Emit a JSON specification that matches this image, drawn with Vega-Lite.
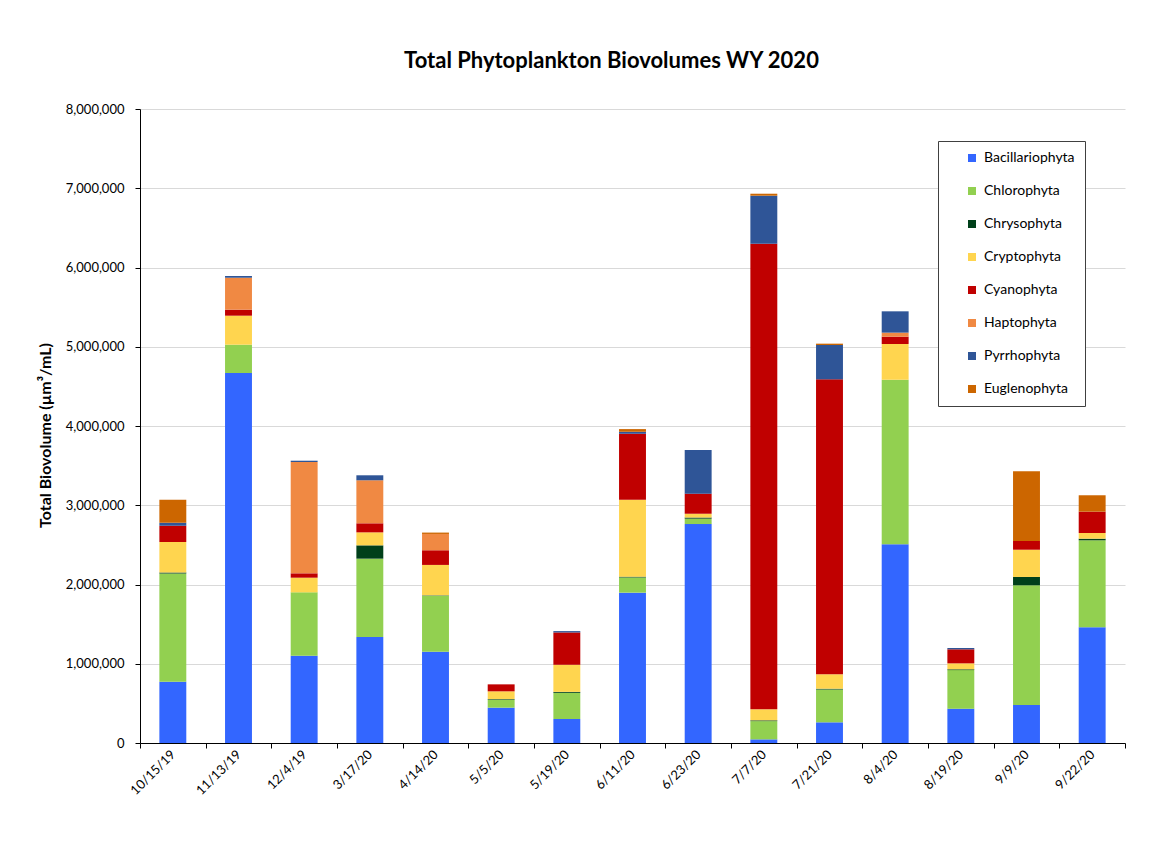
{
  "$schema": "https://vega.github.io/schema/vega-lite/v6.json",
  "width": 985,
  "height": 634,
  "autosize": {"type": "none"},
  "padding": {"left": 140, "top": 109, "right": 25, "bottom": 101},
  "background": "white",
  "title": {"text": "Total Phytoplankton Biovolumes WY 2020", "font": "Lato", "fontSize": 22, "fontWeight": "bold", "color": "#000000", "anchor": "middle", "offset": 30, "dx": -21},
  "data": {"values": [
    {"d": "10/15/19", "g": "Bacillariophyta", "v": 773000},
    {"d": "10/15/19", "g": "Chlorophyta", "v": 1367000},
    {"d": "10/15/19", "g": "Chrysophyta", "v": 10000},
    {"d": "10/15/19", "g": "Cryptophyta", "v": 386000},
    {"d": "10/15/19", "g": "Cyanophyta", "v": 206000},
    {"d": "10/15/19", "g": "Pyrrhophyta", "v": 38000},
    {"d": "10/15/19", "g": "Euglenophyta", "v": 290000},
    {"d": "11/13/19", "g": "Bacillariophyta", "v": 4669000},
    {"d": "11/13/19", "g": "Chlorophyta", "v": 357000},
    {"d": "11/13/19", "g": "Cryptophyta", "v": 366000},
    {"d": "11/13/19", "g": "Cyanophyta", "v": 76000},
    {"d": "11/13/19", "g": "Haptophyta", "v": 403000},
    {"d": "11/13/19", "g": "Pyrrhophyta", "v": 22000},
    {"d": "12/4/19", "g": "Bacillariophyta", "v": 1102000},
    {"d": "12/4/19", "g": "Chlorophyta", "v": 799000},
    {"d": "12/4/19", "g": "Cryptophyta", "v": 185000},
    {"d": "12/4/19", "g": "Cyanophyta", "v": 55000},
    {"d": "12/4/19", "g": "Haptophyta", "v": 1405000},
    {"d": "12/4/19", "g": "Pyrrhophyta", "v": 16000},
    {"d": "3/17/20", "g": "Bacillariophyta", "v": 1338000},
    {"d": "3/17/20", "g": "Chlorophyta", "v": 988000},
    {"d": "3/17/20", "g": "Chrysophyta", "v": 168000},
    {"d": "3/17/20", "g": "Cryptophyta", "v": 164000},
    {"d": "3/17/20", "g": "Cyanophyta", "v": 114000},
    {"d": "3/17/20", "g": "Haptophyta", "v": 543000},
    {"d": "3/17/20", "g": "Pyrrhophyta", "v": 63000},
    {"d": "4/14/20", "g": "Bacillariophyta", "v": 1152000},
    {"d": "4/14/20", "g": "Chlorophyta", "v": 707000},
    {"d": "4/14/20", "g": "Chrysophyta", "v": 5000},
    {"d": "4/14/20", "g": "Cryptophyta", "v": 383000},
    {"d": "4/14/20", "g": "Cyanophyta", "v": 185000},
    {"d": "4/14/20", "g": "Haptophyta", "v": 206000},
    {"d": "4/14/20", "g": "Euglenophyta", "v": 17000},
    {"d": "5/5/20", "g": "Bacillariophyta", "v": 446000},
    {"d": "5/5/20", "g": "Chlorophyta", "v": 100000},
    {"d": "5/5/20", "g": "Chrysophyta", "v": 8000},
    {"d": "5/5/20", "g": "Cryptophyta", "v": 98000},
    {"d": "5/5/20", "g": "Cyanophyta", "v": 88000},
    {"d": "5/19/20", "g": "Bacillariophyta", "v": 303000},
    {"d": "5/19/20", "g": "Chlorophyta", "v": 330000},
    {"d": "5/19/20", "g": "Chrysophyta", "v": 12000},
    {"d": "5/19/20", "g": "Cryptophyta", "v": 342000},
    {"d": "5/19/20", "g": "Cyanophyta", "v": 408000},
    {"d": "5/19/20", "g": "Pyrrhophyta", "v": 17000},
    {"d": "6/11/20", "g": "Bacillariophyta", "v": 1897000},
    {"d": "6/11/20", "g": "Chlorophyta", "v": 192000},
    {"d": "6/11/20", "g": "Chrysophyta", "v": 10000},
    {"d": "6/11/20", "g": "Cryptophyta", "v": 970000},
    {"d": "6/11/20", "g": "Cyanophyta", "v": 833000},
    {"d": "6/11/20", "g": "Pyrrhophyta", "v": 25000},
    {"d": "6/11/20", "g": "Euglenophyta", "v": 34000},
    {"d": "6/23/20", "g": "Bacillariophyta", "v": 2763000},
    {"d": "6/23/20", "g": "Chlorophyta", "v": 68000},
    {"d": "6/23/20", "g": "Chrysophyta", "v": 14000},
    {"d": "6/23/20", "g": "Cryptophyta", "v": 48000},
    {"d": "6/23/20", "g": "Cyanophyta", "v": 253000},
    {"d": "6/23/20", "g": "Pyrrhophyta", "v": 551000},
    {"d": "7/7/20", "g": "Bacillariophyta", "v": 46000},
    {"d": "7/7/20", "g": "Chlorophyta", "v": 230000},
    {"d": "7/7/20", "g": "Chrysophyta", "v": 10000},
    {"d": "7/7/20", "g": "Cryptophyta", "v": 139000},
    {"d": "7/7/20", "g": "Cyanophyta", "v": 5875000},
    {"d": "7/7/20", "g": "Pyrrhophyta", "v": 606000},
    {"d": "7/7/20", "g": "Euglenophyta", "v": 25000},
    {"d": "7/21/20", "g": "Bacillariophyta", "v": 261000},
    {"d": "7/21/20", "g": "Chlorophyta", "v": 414000},
    {"d": "7/21/20", "g": "Chrysophyta", "v": 10000},
    {"d": "7/21/20", "g": "Cryptophyta", "v": 182000},
    {"d": "7/21/20", "g": "Cyanophyta", "v": 3722000},
    {"d": "7/21/20", "g": "Pyrrhophyta", "v": 433000},
    {"d": "7/21/20", "g": "Euglenophyta", "v": 17000},
    {"d": "8/4/20", "g": "Bacillariophyta", "v": 2507000},
    {"d": "8/4/20", "g": "Chlorophyta", "v": 2078000},
    {"d": "8/4/20", "g": "Cryptophyta", "v": 450000},
    {"d": "8/4/20", "g": "Cyanophyta", "v": 92000},
    {"d": "8/4/20", "g": "Haptophyta", "v": 51000},
    {"d": "8/4/20", "g": "Pyrrhophyta", "v": 269000},
    {"d": "8/19/20", "g": "Bacillariophyta", "v": 433000},
    {"d": "8/19/20", "g": "Chlorophyta", "v": 487000},
    {"d": "8/19/20", "g": "Chrysophyta", "v": 10000},
    {"d": "8/19/20", "g": "Cryptophyta", "v": 75000},
    {"d": "8/19/20", "g": "Cyanophyta", "v": 177000},
    {"d": "8/19/20", "g": "Pyrrhophyta", "v": 17000},
    {"d": "9/9/20", "g": "Bacillariophyta", "v": 479000},
    {"d": "9/9/20", "g": "Chlorophyta", "v": 1511000},
    {"d": "9/9/20", "g": "Chrysophyta", "v": 105000},
    {"d": "9/9/20", "g": "Cryptophyta", "v": 344000},
    {"d": "9/9/20", "g": "Cyanophyta", "v": 110000},
    {"d": "9/9/20", "g": "Euglenophyta", "v": 879000},
    {"d": "9/22/20", "g": "Bacillariophyta", "v": 1460000},
    {"d": "9/22/20", "g": "Chlorophyta", "v": 1098000},
    {"d": "9/22/20", "g": "Chrysophyta", "v": 20000},
    {"d": "9/22/20", "g": "Cryptophyta", "v": 72000},
    {"d": "9/22/20", "g": "Cyanophyta", "v": 269000},
    {"d": "9/22/20", "g": "Euglenophyta", "v": 207000}
  ]},
  "transform": [
    {"calculate": "indexof(['Bacillariophyta', 'Chlorophyta', 'Chrysophyta', 'Cryptophyta', 'Cyanophyta', 'Haptophyta', 'Pyrrhophyta', 'Euglenophyta'], datum.g)", "as": "stackKey"}
  ],
  "mark": {"type": "bar", "width": {"band": 0.41}},
  "encoding": {
    "x": {
      "field": "d", "type": "nominal", "sort": null,
      "scale": {"paddingInner": 0, "paddingOuter": 0},
      "axis": {"title": null, "labelAngle": -45, "labelAlign": "right", "labelBaseline": "middle", "labelFont": "Lato", "labelFontSize": 13, "labelColor": "#000000", "domainColor": "#000000", "domainWidth": 1, "tickColor": "#000000", "tickSize": 5, "tickBand": "extent", "labelPadding": 4, "grid": false}
    },
    "y": {
      "field": "v", "type": "quantitative", "stack": "zero",
      "scale": {"domain": [0, 8000000]},
      "axis": {"title": "Total Biovolume (µm³/mL)", "titleFont": "Lato", "titleFontSize": 16, "titleFontWeight": "bold", "titleColor": "#000000", "titlePadding": 12, "titleY": 326, "values": [0, 1000000, 2000000, 3000000, 4000000, 5000000, 6000000, 7000000, 8000000], "format": ",d", "labelFont": "Lato", "labelFontSize": 13, "labelColor": "#000000", "domain": true, "domainColor": "#000000", "domainWidth": 1, "ticks": true, "tickSize": 5, "tickColor": "#000000", "labelPadding": 11, "gridColor": "#d9d9d9", "gridWidth": 1}
    },
    "order": {"field": "stackKey", "type": "quantitative", "sort": "ascending"},
    "color": {
      "field": "g", "type": "nominal",
      "scale": {
        "domain": ["Bacillariophyta", "Chlorophyta", "Chrysophyta", "Cryptophyta", "Cyanophyta", "Haptophyta", "Pyrrhophyta", "Euglenophyta"],
        "range": ["#3366ff", "#92d050", "#00401a", "#ffd54f", "#c00000", "#f08943", "#2f5597", "#cc6600"]
      },
      "legend": {"orient": "none", "legendX": 798, "legendY": 32, "title": null, "symbolType": "square", "symbolSize": 64, "symbolStrokeWidth": 0, "labelFont": "Lato", "labelFontSize": 14, "labelColor": "#000000", "rowPadding": 19, "padding": 10, "symbolOffset": 17, "labelOffset": 5, "labelExpr": "datum.label + '      '", "strokeColor": "#404040", "fillColor": "#ffffff"}
    }
  },
  "config": {"view": {"stroke": null}}
}
